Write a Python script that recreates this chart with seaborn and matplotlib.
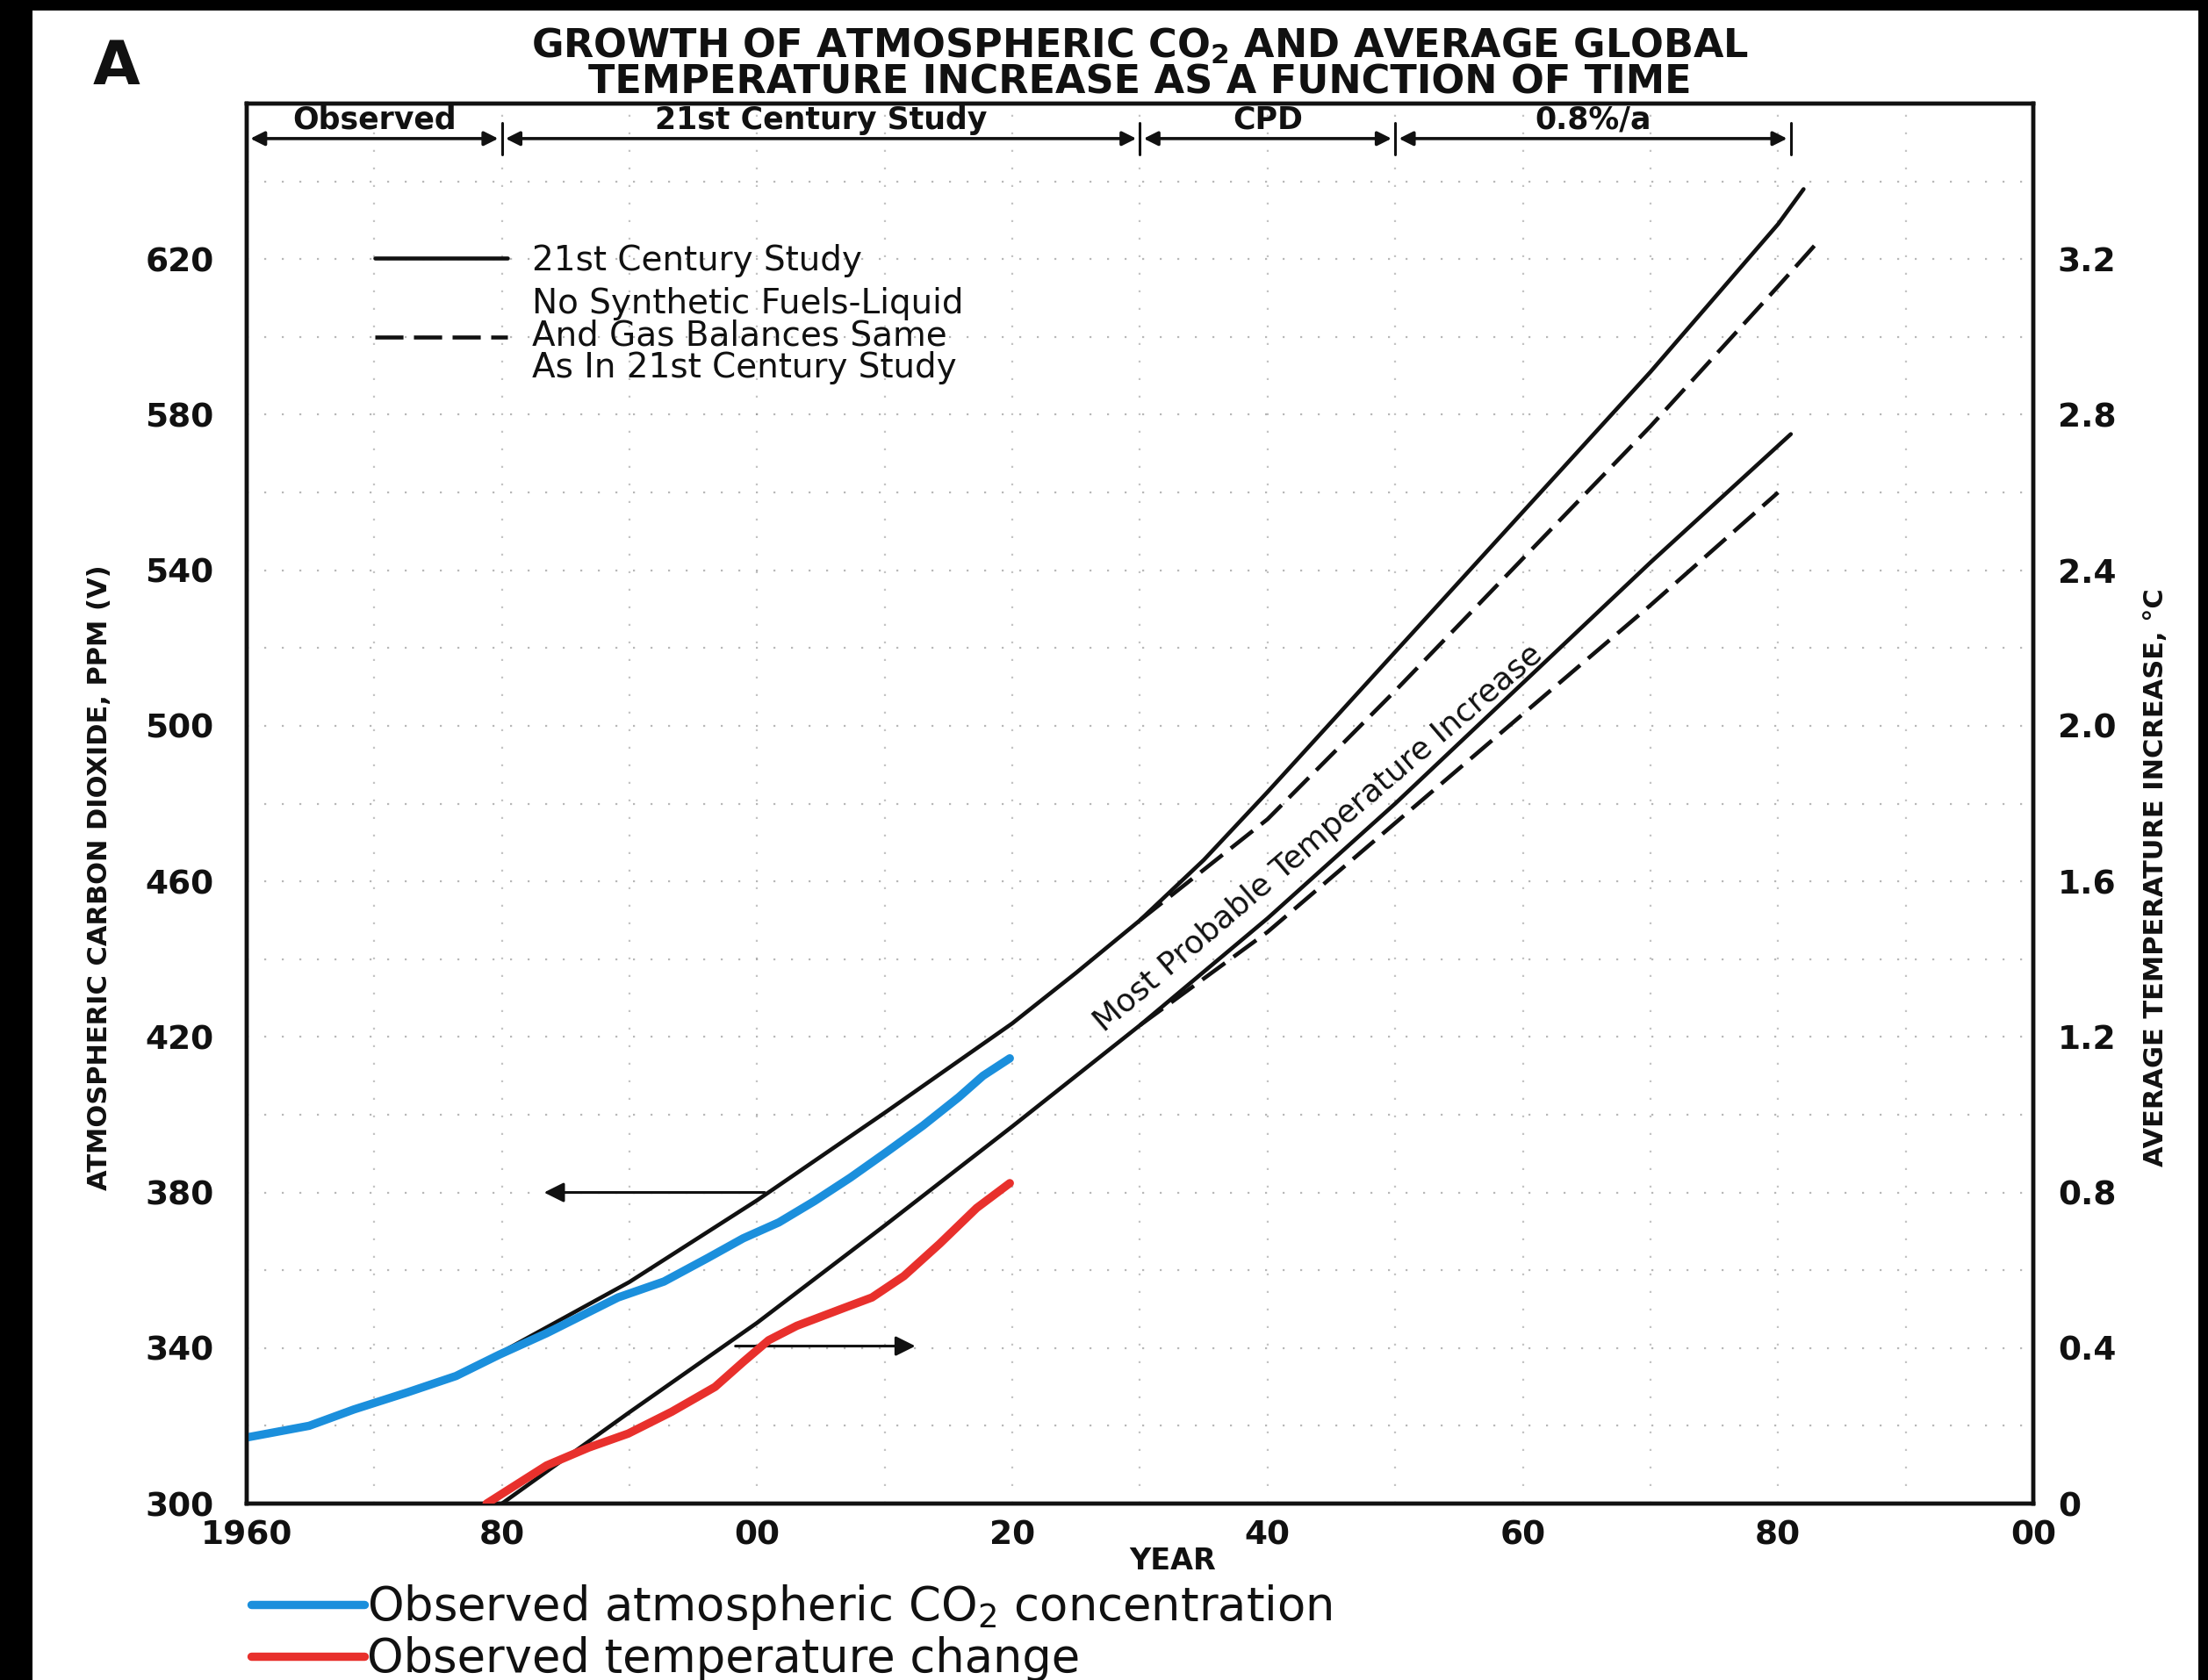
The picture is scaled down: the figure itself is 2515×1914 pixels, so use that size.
import numpy as np
import pandas as pd
import matplotlib
matplotlib.use("Agg")
import matplotlib.pyplot as plt
from matplotlib.patches import Rectangle
from matplotlib.lines import Line2D
import seaborn as sns

# observed atmospheric CO2 (ppm) - blue overlay
obs_co2_year = [1960, 1964.9, 1968.4, 1972.6, 1976.4, 1979.8, 1983.5, 1986.3, 1989.1, 1992.7,
                1996.1, 1998.9, 2001.7, 2004.5, 2007.3, 2010.1, 2013.0, 2015.8, 2017.7, 2019.8]
obs_co2_ppm = [317, 320, 324.2, 328.6, 332.8, 338.3, 343.8, 348.4, 353.0, 357.1,
               363.1, 368.2, 372.3, 377.8, 383.8, 390.3, 397.2, 404.5, 410.0, 414.5]

# observed temperature change (deg C) - red overlay
obs_temp_year = [1978.8, 1983.5, 1986.8, 1989.9, 1993.3, 1996.7, 1998.9, 2000.9, 2003.1,
                 2006.8, 2009.0, 2011.5, 2014.3, 2017.2, 2019.8]
obs_temp_c = [0.0, 0.098, 0.144, 0.18, 0.236, 0.30, 0.364, 0.42, 0.457,
              0.503, 0.53, 0.585, 0.668, 0.76, 0.824]

# projected CO2, 21st Century Study (solid) and no synthetic fuels (dashed)
co2_year = [1980, 1990, 2000, 2010, 2020, 2025, 2030, 2035, 2040, 2050, 2060, 2070, 2080, 2082]
co2_ppm = [339, 357, 378, 400.5, 423.5, 436.5, 450, 465.5, 483, 519, 555, 591, 629, 638]
co2_nosyn_year = [2030, 2040, 2050, 2060, 2070, 2080, 2083]
co2_nosyn_ppm = [450, 476, 509, 543, 577, 613, 624]

# projected temperature increase (deg C)
temp_year = [1980, 1990, 2000, 2010, 2020, 2030, 2040, 2050, 2060, 2070, 2081]
temp_c = [0.0, 0.235, 0.465, 0.715, 0.97, 1.23, 1.505, 1.80, 2.11, 2.42, 2.75]
temp_nosyn_year = [2030, 2040, 2050, 2060, 2070, 2080]
temp_nosyn_c = [1.23, 1.47, 1.75, 2.03, 2.31, 2.60]

# scenario brackets along the top
period_edges = [1960, 1980, 2030, 2050, 2081]
period_labels = ["Observed", "21st Century Study", "CPD", "0.8%/a"]

x_ticks = [1960, 1980, 2000, 2020, 2040, 2060, 2080, 2100]
x_ticklabels = ["1960", "80", "00", "20", "40", "60", "80", "00"]
y_ticks = list(range(300, 621, 40))
t_ticks = [0, 0.4, 0.8, 1.2, 1.6, 2.0, 2.4, 2.8, 3.2]
t_ticklabels = ["0", "0.4", "0.8", "1.2", "1.6", "2.0", "2.4", "2.8", "3.2"]

sns.set_theme(style="white")
plt.rcParams["font.family"] = ["DejaVu Sans"]
plt.rcParams["text.color"] = "#111111"

BLUE = "#1b8fdc"
RED = "#e8302c"
INK = "#111111"
W, H = 2515, 1914

fig = plt.figure(figsize=(W / 100, H / 100), dpi=100, facecolor="black")
fig.add_artist(Rectangle((37 / W, 0), (2504 - 37) / W, 1 - 12 / H,
                         transform=fig.transFigure, facecolor="white",
                         edgecolor="none", zorder=-5))

ax = fig.add_axes([281 / W, 1 - 1713 / H, (2316 - 281) / W, (1713 - 118) / H])
ax.set_facecolor("white")
ax2 = ax.twinx()

ax.set_xlim(1960, 2100)
ax.set_ylim(300, 660)
ax2.set_ylim(0, 3.6)

# faint remnants of the old grid
for yv in range(320, 660, 20):
    ax.axhline(yv, color="#8a8a8a", lw=1.6, ls=(0, (1, 8)), alpha=0.6, zorder=0)
for xv in range(1970, 2100, 10):
    ax.axvline(xv, color="#8a8a8a", lw=1.6, ls=(0, (1, 8)), alpha=0.5, zorder=0)

# projections
sns.lineplot(x=co2_year, y=co2_ppm, ax=ax, color=INK, lw=3.3)
sns.lineplot(x=co2_nosyn_year, y=co2_nosyn_ppm, ax=ax, color=INK, lw=3.3)
ax.lines[-1].set_dashes([7, 2.6])
sns.lineplot(x=temp_year, y=temp_c, ax=ax2, color=INK, lw=3.3)
sns.lineplot(x=temp_nosyn_year, y=temp_nosyn_c, ax=ax2, color=INK, lw=3.3)
ax2.lines[-1].set_dashes([7, 2.6])

# observations
sns.lineplot(x=obs_co2_year, y=obs_co2_ppm, ax=ax, color=BLUE, lw=6.8,
             solid_capstyle="round", solid_joinstyle="round", zorder=5)
sns.lineplot(x=obs_temp_year, y=obs_temp_c, ax=ax2, color=RED, lw=6.8,
             solid_capstyle="round", solid_joinstyle="round", zorder=5)

# axis styling
for a in (ax, ax2):
    for s in a.spines.values():
        s.set_linewidth(3.2)
        s.set_color(INK)
    a.set_xlabel("")
    a.set_ylabel("")
ax.set_xticks(x_ticks)
ax.set_xticklabels(x_ticklabels)
ax.set_yticks(y_ticks)
ax2.set_yticks(t_ticks)
ax2.set_yticklabels(t_ticklabels)
ax.tick_params(axis="y", length=0, pad=27, labelsize=27, labelcolor=INK)
ax.tick_params(axis="x", length=0, pad=13, labelsize=27, labelcolor=INK)
ax2.tick_params(axis="y", length=0, pad=20, labelsize=27, labelcolor=INK)
for lab in ax.get_xticklabels() + ax.get_yticklabels() + ax2.get_yticklabels():
    lab.set_fontweight("bold")

fig.text(1336 / W, 1 - 1778 / H, "YEAR", ha="center", va="center",
         fontsize=24, fontweight="bold", color=INK)
fig.text(114 / W, 1 - 1000 / H, "ATMOSPHERIC CARBON DIOXIDE, PPM (V)", rotation=90,
         ha="center", va="center", fontsize=22, fontweight="bold", color=INK)
fig.text(2455 / W, 1 - 1000 / H, "AVERAGE TEMPERATURE INCREASE, °C", rotation=90,
         ha="center", va="center", fontsize=22, fontweight="bold", color=INK)

# title and panel letter
fig.text(1298 / W, 1 - 73 / H,
         "GROWTH OF ATMOSPHERIC CO$_\\mathbf{2}$ AND AVERAGE GLOBAL\n"
         "TEMPERATURE INCREASE AS A FUNCTION OF TIME",
         ha="center", va="center", fontsize=32, fontweight="bold",
         color=INK, linespacing=0.93)
fig.text(133 / W, 1 - 77 / H, "A", ha="center", va="center", fontsize=50,
         fontweight="bold", color=INK)

# period brackets
y_br = 651
for a_, b_ in zip(period_edges[:-1], period_edges[1:]):
    ax.annotate("", xy=(b_, y_br), xytext=(a_, y_br),
                arrowprops=dict(arrowstyle="<|-|>", lw=2.6, color=INK,
                                shrinkA=3, shrinkB=3, mutation_scale=24))
for e in period_edges[1:]:
    ax.plot([e, e], [647, 655], color=INK, lw=2.2, clip_on=False)
for a_, b_, lab in zip(period_edges[:-1], period_edges[1:], period_labels):
    ax.text((a_ + b_) / 2, 655.8, lab, ha="center", va="center", fontsize=25,
            fontweight="bold", color=INK)

# direction arrows
ax.annotate("", xy=(1983.3, 380), xytext=(2000.6, 380),
            arrowprops=dict(arrowstyle="-|>", lw=2.2, color=INK,
                            shrinkA=0, shrinkB=0, mutation_scale=34))
ax2.annotate("", xy=(2012.4, 0.405), xytext=(1998.3, 0.405),
             arrowprops=dict(arrowstyle="-|>", lw=2.2, color=INK,
                             shrinkA=0, shrinkB=0, mutation_scale=34))

ax2.text(2044, 1.71, "Most Probable Temperature Increase", rotation=40.5,
         rotation_mode="anchor", ha="center", va="center", fontsize=26,
         color=INK)

# in-plot legend for the projections
proj_handles = [Line2D([], [], color=INK, lw=3.3),
                Line2D([], [], color=INK, lw=3.3, dashes=[7, 2.6])]
leg = ax2.legend(proj_handles,
                 ["21st Century Study",
                  "No Synthetic Fuels-Liquid\nAnd Gas Balances Same\nAs In 21st Century Study"],
                 loc="upper left", bbox_to_anchor=(0.062, 0.912), frameon=False,
                 fontsize=28, handlelength=3.9, handletextpad=0.7,
                 labelspacing=0.3, borderpad=0)
for t in leg.get_texts():
    t.set_color(INK)
    t.set_linespacing(0.95)

# overlay legend below the chart
obs_handles = [Line2D([], [], color=BLUE, lw=6.8, solid_capstyle="round"),
               Line2D([], [], color=RED, lw=6.8, solid_capstyle="round")]
obs_leg = fig.legend(obs_handles,
                     ["Observed atmospheric CO$_2$ concentration",
                      "Observed temperature change"],
                     loc="upper left", bbox_to_anchor=(286 / W, 1 - 1803 / H),
                     frameon=False, fontsize=38, handlelength=2.45,
                     handletextpad=0.05, labelspacing=0.1,
                     borderpad=0, borderaxespad=0)
for t in obs_leg.get_texts():
    t.set_color(INK)

fig.savefig("out.png", dpi=100, facecolor=fig.get_facecolor())
